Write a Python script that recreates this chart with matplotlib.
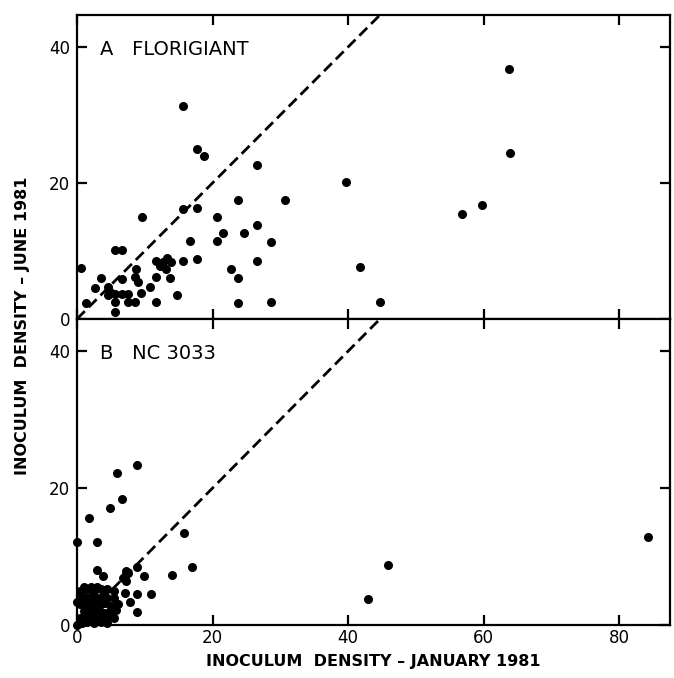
import numpy as np
import matplotlib.pyplot as plt

# -----------------------------
# Data
# -----------------------------
# Panel A - Florigiant
flor_jan = [15.7, 17.7, 18.7, 26.6, 39.7, 23.7, 30.7, 15.7, 17.7, 9.6,
            20.6, 26.6, 21.6, 24.6, 20.6, 28.6, 16.7, 5.6, 6.6, 11.7,
            12.7, 13.3, 13.8, 15.7, 17.7, 26.6, 13.2, 22.7, 41.7, 0.6,
            8.7, 3.6, 6.7, 8.6, 9.0, 11.7, 13.7, 23.7, 2.7, 4.6,
            10.7, 4.9, 5.6, 6.6, 7.6, 14.7, 1.4, 5.6, 7.6, 8.6,
            11.7, 23.7, 28.6, 5.6, 9.5, 63.8, 63.9, 59.7, 56.8, 44.7,
            4.6, 12.3]
flor_jun = [31.3, 25.0, 23.9, 22.6, 20.1, 17.5, 17.5, 16.2, 16.3, 15.0,
            15.0, 13.8, 12.6, 12.6, 11.4, 11.3, 11.4, 10.1, 10.1, 8.6,
            8.4, 9.0, 8.4, 8.6, 8.8, 8.6, 7.3, 7.4, 7.7, 7.5,
            7.3, 6.0, 5.9, 6.2, 5.5, 6.2, 6.0, 6.0, 4.5, 4.75,
            4.7, 4.0, 3.7, 3.7, 3.7, 3.6, 2.3, 2.5, 2.5, 2.5,
            2.5, 2.3, 2.5, 1.1, 3.8, 36.7, 24.4, 16.8, 15.4, 2.5,
            3.6, 7.8]

# Panel B - NC 3033
nc_jan = [8.8, 5.9, 6.7, 4.8, 1.8, 0.0, 2.9, 15.8, 17.0, 2.9,
          3.9, 8.8, 7.3, 7.1, 7.3, 9.9, 14.0, 8.9, 10.9, 8.9,
          7.1, 7.8, 0.0, 84.3, 45.9, 43.0,
          0.5, 1.0, 1.5, 2.0, 2.5, 3.0, 3.5, 4.0, 4.5, 5.5,
          0.8, 1.5, 2.2, 3.0, 3.8, 4.5, 5.5,
          0.5, 1.2, 2.0, 2.8, 3.5, 4.2, 5.0, 6.0,
          1.0, 1.8, 2.5, 3.2, 4.0, 4.8, 5.8,
          0.5, 1.2, 2.0, 2.8, 3.5, 4.5, 5.5,
          0.0, 0.8, 1.5, 2.5, 3.5, 4.5, 6.8, 7.5]
nc_jun = [23.3, 22.2, 18.4, 17.1, 15.7, 12.1, 12.1, 13.4, 8.5, 8.1,
          7.1, 8.4, 7.9, 7.2, 6.4, 7.2, 7.3, 4.5, 4.5, 1.9,
          4.6, 3.4, 3.4, 12.9, 8.7, 3.8,
          5.0, 5.5, 5.2, 5.5, 5.0, 5.5, 5.2, 5.0, 5.3, 5.0,
          4.2, 4.0, 4.3, 4.0, 4.2, 3.9, 4.0,
          3.0, 3.2, 3.0, 3.3, 3.0, 3.2, 2.8, 3.0,
          2.0, 2.2, 2.0, 2.2, 1.8, 2.0, 2.2,
          1.0, 1.2, 1.0, 1.2, 1.0, 1.2, 1.0,
          0.0, 0.3, 0.5, 0.3, 0.4, 0.3, 6.9, 7.6]

panel_labels = ["A   FLORIGIANT", "B   NC 3033"]
x_ticks = [0, 20, 40, 60, 80]
y_ticks = [0, 20, 40]

# -----------------------------
# Plot
# -----------------------------
fig = plt.figure(figsize=(6.74, 6.78), dpi=100)
ax_a = fig.add_axes([0.1142, 0.5295, 0.880, 0.4484])
ax_b = fig.add_axes([0.1142, 0.0782, 0.880, 0.4513])

for ax, xs, ys, lab in [(ax_a, flor_jan, flor_jun, panel_labels[0]),
                        (ax_b, nc_jan, nc_jun, panel_labels[1])]:
    ax.plot([0, 100], [0, 100], color="black", lw=2.0, ls=(0, (4, 2)))
    ax.scatter(xs, ys, s=30, color="black", zorder=3, clip_on=False)
    ax.set_xlim(0, 87.5)
    ax.set_ylim(0, 44.7)
    ax.set_xticks(x_ticks)
    ax.set_yticks(y_ticks)
    for sp in ax.spines.values():
        sp.set_linewidth(1.6)
    ax.tick_params(direction="in", length=7, width=1.6, top=True, right=True,
                   labelsize=12, pad=5)
    ax.text(0.039, 0.887, lab, transform=ax.transAxes, fontsize=14,
            va="center", ha="left")

ax_a.tick_params(labelbottom=False)
ax_b.tick_params(axis="x", pad=3)

ax_b.set_xlabel("INOCULUM  DENSITY \u2013 JANUARY 1981", fontsize=11.5,
                fontweight="bold", labelpad=5)
fig.text(0.033, 0.52, "INOCULUM  DENSITY \u2013 JUNE 1981", rotation=90,
         fontsize=11.5, fontweight="bold", ha="center", va="center")

plt.savefig("out.png", dpi=100)
